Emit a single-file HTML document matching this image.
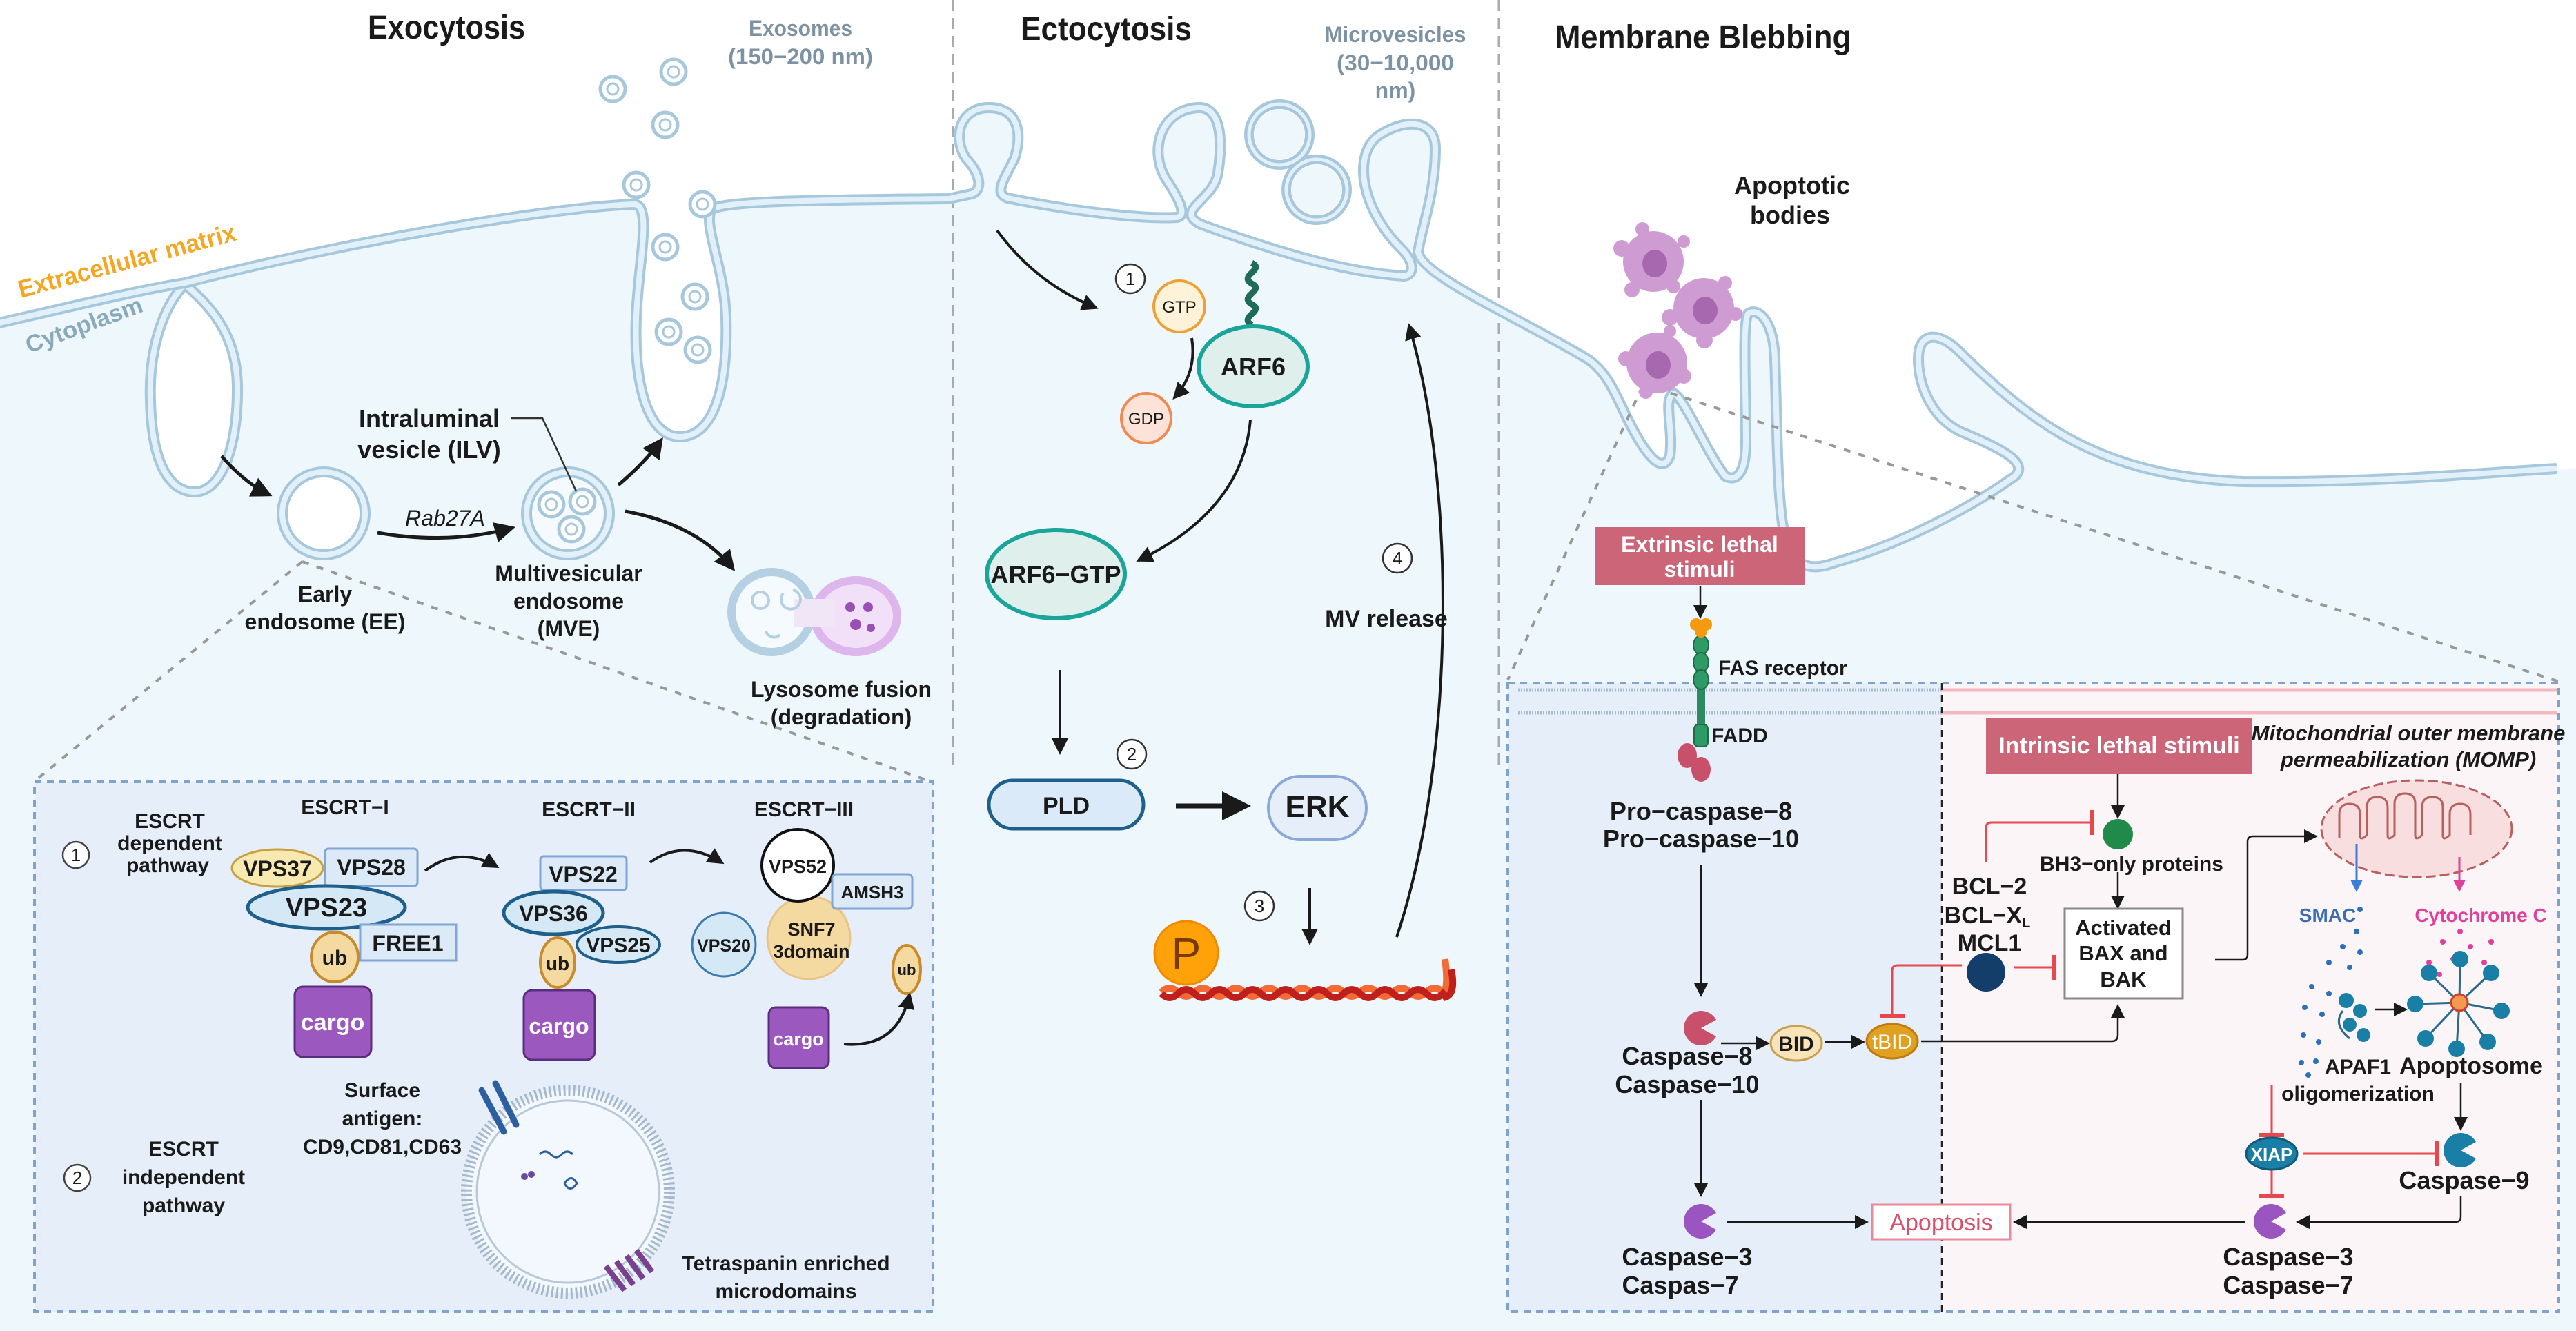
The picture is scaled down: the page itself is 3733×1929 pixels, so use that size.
<!DOCTYPE html>
<html><head><meta charset="utf-8"><style>
html,body{margin:0;padding:0;background:#fff}
svg{display:block}
text{font-family:"Liberation Sans Narrow","Liberation Sans",sans-serif;fill:#1a1a1a}
.b{font-weight:bold}
.g{fill:#7d93a3}
</style></head><body>
<svg xmlns="http://www.w3.org/2000/svg" width="3733" height="1929" viewBox="0 0 3733 1929">
<defs>
<marker id="ah" markerWidth="8" markerHeight="8" refX="6" refY="4" orient="auto" markerUnits="strokeWidth"><path d="M0,0 L8,4 L0,8 Z" fill="#1a1a1a"/></marker>
<marker id="ahs" markerWidth="6" markerHeight="6" refX="5" refY="3" orient="auto" markerUnits="strokeWidth"><path d="M0,0 L6,3 L0,6 Z" fill="#1a1a1a"/></marker>
<marker id="ahb" markerWidth="6" markerHeight="6" refX="5" refY="3" orient="auto" markerUnits="strokeWidth"><path d="M0,0 L6,3 L0,6 Z" fill="#3b7dd8"/></marker>
<marker id="ahp" markerWidth="6" markerHeight="6" refX="5" refY="3" orient="auto" markerUnits="strokeWidth"><path d="M0,0 L6,3 L0,6 Z" fill="#e0409a"/></marker>
<marker id="bar" markerWidth="2" markerHeight="12" refX="1" refY="6" orient="auto" markerUnits="strokeWidth"><rect x="0" y="0" width="2" height="12" fill="#e8474e"/></marker>
<path id="mem" fill="none" d="M-10 470 C 80 450, 200 420, 268 410 C 500 350, 800 300, 920 296 C 945 300, 925 380, 922 460 C 918 560, 940 633, 985 633 C 1035 633, 1055 560, 1052 460 C 1050 390, 1020 330, 1030 305 C 1040 290, 1200 290, 1375 288 L 1408 281 C 1425 276, 1420 250, 1400 230 C 1380 200, 1390 156, 1433 156 C 1480 156, 1480 200, 1470 230 C 1455 260, 1440 280, 1460 287 C 1550 305, 1650 318, 1706 315 C 1720 312, 1710 290, 1690 260 C 1665 220, 1680 160, 1735 156 C 1775 153, 1770 220, 1765 250 C 1760 290, 1700 305, 1740 325 C 1850 365, 1950 395, 2035 400 C 2050 398, 2050 380, 2030 360 C 1970 300, 1960 220, 2000 195 C 2040 170, 2080 175, 2080 215 C 2080 280, 2060 330, 2055 365 C 2060 400, 2200 460, 2300 520 C 2330 540, 2340 570, 2360 610 C 2385 660, 2410 690, 2420 660 C 2425 620, 2410 580, 2425 570 C 2440 575, 2470 650, 2500 690 C 2520 700, 2530 680, 2530 640 C 2530 560, 2525 470, 2533 455 C 2545 445, 2570 460, 2572 520 C 2575 600, 2575 720, 2585 770 C 2595 820, 2620 830, 2660 815 C 2750 790, 2850 740, 2920 690 C 2940 670, 2900 650, 2840 625 C 2800 605, 2780 560, 2780 520 C 2780 480, 2810 480, 2840 510 C 2950 620, 3050 690, 3250 698 C 3450 700, 3600 685, 3705 679"/>
<path id="lpk" fill="none" d="M 268 412 C 240 440, 215 500, 218 580 C 220 680, 250 713, 282 713 C 320 713, 345 650, 344 560 C 343 480, 300 440, 268 412 Z"/>
</defs>

<rect width="3733" height="1929" fill="#eef7fc"/>
<path fill="#fff" d="M-10 0 L-10 470 C 80 450, 200 420, 268 410 C 500 350, 800 300, 920 296 C 945 300, 925 380, 922 460 C 918 560, 940 633, 985 633 C 1035 633, 1055 560, 1052 460 C 1050 390, 1020 330, 1030 305 C 1040 290, 1200 290, 1375 288 L 1408 281 C 1425 276, 1420 250, 1400 230 C 1380 200, 1390 156, 1433 156 C 1480 156, 1480 200, 1470 230 C 1455 260, 1440 280, 1460 287 C 1550 305, 1650 318, 1706 315 C 1720 312, 1710 290, 1690 260 C 1665 220, 1680 160, 1735 156 C 1775 153, 1770 220, 1765 250 C 1760 290, 1700 305, 1740 325 C 1850 365, 1950 395, 2035 400 C 2050 398, 2050 380, 2030 360 C 1970 300, 1960 220, 2000 195 C 2040 170, 2080 175, 2080 215 C 2080 280, 2060 330, 2055 365 C 2060 400, 2200 460, 2300 520 C 2330 540, 2340 570, 2360 610 C 2385 660, 2410 690, 2420 660 C 2425 620, 2410 580, 2425 570 C 2440 575, 2470 650, 2500 690 C 2520 700, 2530 680, 2530 640 C 2530 560, 2525 470, 2533 455 C 2545 445, 2570 460, 2572 520 C 2575 600, 2575 720, 2585 770 C 2595 820, 2620 830, 2660 815 C 2750 790, 2850 740, 2920 690 C 2940 670, 2900 650, 2840 625 C 2800 605, 2780 560, 2780 520 C 2780 480, 2810 480, 2840 510 C 2950 620, 3050 690, 3250 698 C 3450 700, 3600 685, 3745 679 L 3745 0 Z"/>

<line x1="1381" y1="0" x2="1381" y2="1110" stroke="#aaa" stroke-width="3" stroke-dasharray="16 10"/>
<line x1="2172" y1="0" x2="2172" y2="1110" stroke="#aaa" stroke-width="3" stroke-dasharray="16 10"/>

<path d="M 268 412 C 240 440, 215 500, 218 580 C 220 680, 250 713, 282 713 C 320 713, 345 650, 344 560 C 343 480, 300 440, 268 412 Z" fill="#fff"/>
<use href="#lpk" stroke="#a7c8dc" stroke-width="16"/>
<use href="#lpk" stroke="#e2f1f9" stroke-width="8"/>

<use href="#mem" stroke="#a7c8dc" stroke-width="16"/>
<use href="#mem" stroke="#e2f1f9" stroke-width="8"/>

<g fill="#fff" stroke="#a7c8dc" stroke-width="5">
<circle cx="888" cy="129" r="18"/><circle cx="976" cy="104" r="18"/><circle cx="964" cy="181" r="18"/>
<circle cx="922" cy="268" r="18"/><circle cx="1018" cy="296" r="18"/>
<circle cx="964" cy="358" r="18"/><circle cx="1007" cy="430" r="18"/><circle cx="969" cy="481" r="18"/><circle cx="1011" cy="507" r="18"/>
<circle cx="1854" cy="195" r="44" stroke-width="14"/><circle cx="1908" cy="275" r="44" stroke-width="14"/>
</g>
<g fill="none" stroke="#e2f1f9" stroke-width="5"><circle cx="1854" cy="195" r="44"/><circle cx="1908" cy="275" r="44"/></g>
<g fill="#eef7fc"><circle cx="1854" cy="195" r="36"/><circle cx="1908" cy="275" r="36"/></g>
<g fill="none" stroke="#a7c8dc" stroke-width="3">
<circle cx="888" cy="129" r="8"/><circle cx="976" cy="104" r="8"/><circle cx="964" cy="181" r="8"/><circle cx="922" cy="268" r="8"/><circle cx="1018" cy="296" r="8"/><circle cx="964" cy="358" r="8"/><circle cx="1007" cy="430" r="8"/><circle cx="969" cy="481" r="8"/><circle cx="1011" cy="507" r="8"/>
</g>

<text x="647" y="56" font-size="48" class="b" text-anchor="middle" textLength="228" lengthAdjust="spacingAndGlyphs">Exocytosis</text>
<text x="1603" y="58" font-size="48" class="b" text-anchor="middle" textLength="248" lengthAdjust="spacingAndGlyphs">Ectocytosis</text>
<text x="2468" y="70" font-size="48" class="b" text-anchor="middle" textLength="430" lengthAdjust="spacingAndGlyphs">Membrane Blebbing</text>
<g font-size="32" class="b" text-anchor="middle">
<text x="1160" y="52" class="g b" textLength="150" lengthAdjust="spacingAndGlyphs">Exosomes</text>
<text x="1160" y="93" class="g b" textLength="210" lengthAdjust="spacingAndGlyphs">(150−200 nm)</text>
<text x="2022" y="61" class="g b" textLength="205" lengthAdjust="spacingAndGlyphs">Microvesicles</text>
<text x="2022" y="102" class="g b" textLength="170" lengthAdjust="spacingAndGlyphs">(30−10,000</text>
<text x="2022" y="142" class="g b">nm)</text>
</g>
<text x="30" y="432" font-size="36" class="b" transform="rotate(-15 30 432)" style="fill:#f5a623" textLength="325" lengthAdjust="spacingAndGlyphs">Extracellular matrix</text>
<text x="42" y="512" font-size="34" class="b" transform="rotate(-20 42 512)" style="fill:#8aaabb" textLength="178" lengthAdjust="spacingAndGlyphs">Cytoplasm</text>

<circle cx="469" cy="744" r="60" fill="#fff" stroke="#a7c8dc" stroke-width="16"/>
<circle cx="469" cy="744" r="60" fill="none" stroke="#e2f1f9" stroke-width="8"/>
<circle cx="823" cy="744" r="60" fill="#f4fafd" stroke="#a7c8dc" stroke-width="16"/>
<circle cx="823" cy="744" r="60" fill="none" stroke="#e2f1f9" stroke-width="8"/>
<g fill="#fff" stroke="#a7c8dc" stroke-width="5"><circle cx="799" cy="731" r="18"/><circle cx="844" cy="727" r="18"/><circle cx="828" cy="767" r="18"/></g>
<g fill="none" stroke="#a7c8dc" stroke-width="3"><circle cx="799" cy="731" r="8"/><circle cx="844" cy="727" r="8"/><circle cx="828" cy="767" r="8"/></g>
<g stroke="#1a1a1a" stroke-width="5" fill="none">
<path d="M321 661 Q 355 700 390 717" marker-end="url(#ahs)"/>
<path d="M547 772 Q 650 790 742 765" marker-end="url(#ahs)"/>
<path d="M896 703 Q 935 670 958 638" marker-end="url(#ahs)"/>
<path d="M906 741 Q 1010 760 1062 824" marker-end="url(#ahs)"/>
</g>
<polyline points="741,606 786,606 835,712" fill="none" stroke="#333" stroke-width="2.5"/>
<g class="b" font-size="36" text-anchor="middle">
<text x="622" y="619">Intraluminal</text><text x="622" y="664">vesicle (ILV)</text>
</g>
<text x="645" y="762" font-size="32" text-anchor="middle" font-style="italic">Rab27A</text>
<g class="b" font-size="32" text-anchor="middle">
<text x="471" y="872">Early</text><text x="471" y="912">endosome (EE)</text>
<text x="824" y="842">Multivesicular</text><text x="824" y="882">endosome</text><text x="824" y="922">(MVE)</text>
<text x="1219" y="1010">Lysosome fusion</text><text x="1219" y="1050">(degradation)</text>
</g>
<ellipse cx="1240" cy="893" rx="60" ry="52" fill="#f1e0f7" stroke="#dcb6ec" stroke-width="12"/>
<circle cx="1118" cy="887" r="58" fill="#f4fafd" stroke="#b4d0e2" stroke-width="12"/>
<rect x="1150" y="868" width="60" height="40" fill="#f1e6f6"/>
<g fill="none" stroke="#b4d0e2" stroke-width="4"><circle cx="1102" cy="870" r="12"/><path d="M1135 860 a14 14 0 1 0 14 -5"/><path d="M1110 915 a12 12 0 0 0 20 5"/></g>
<g fill="#9a4fb5"><circle cx="1232" cy="880" r="7"/><circle cx="1258" cy="880" r="7"/><circle cx="1240" cy="905" r="8"/><circle cx="1262" cy="910" r="6"/></g>

<g stroke="#999" stroke-width="4" stroke-dasharray="10 12" fill="none">
<line x1="438" y1="814" x2="49" y2="1133"/>
<line x1="438" y1="814" x2="1350" y2="1133"/>
<line x1="2380" y1="560" x2="2185" y2="985"/>
<line x1="2400" y1="563" x2="3715" y2="990"/>
</g>

<rect x="50" y="1133" width="1302" height="768" fill="#e6eff9" stroke="#7fa3cc" stroke-width="4" stroke-dasharray="10 8"/>
<g font-size="26" text-anchor="middle">
<circle cx="110" cy="1239" r="19" fill="#fff" stroke="#444" stroke-width="2.5"/><text x="110" y="1248">1</text>
<circle cx="112" cy="1707" r="19" fill="#fff" stroke="#444" stroke-width="2.5"/><text x="112" y="1716">2</text>
</g>
<g class="b" font-size="30" text-anchor="middle">
<text x="246" y="1200">ESCRT</text><text x="246" y="1232">dependent</text><text x="243" y="1264">pathway</text>
<text x="500" y="1180">ESCRT−I</text><text x="853" y="1183">ESCRT−II</text><text x="1165" y="1183">ESCRT−III</text>
<text x="266" y="1675">ESCRT</text><text x="266" y="1716">independent</text><text x="266" y="1757">pathway</text>
<text x="554" y="1590">Surface</text><text x="554" y="1631">antigen:</text><text x="554" y="1672">CD9,CD81,CD63</text>
<text x="1139" y="1841">Tetraspanin enriched</text><text x="1139" y="1881">microdomains</text>
</g>
<ellipse cx="402" cy="1258" rx="66" ry="27" fill="#f7e9b0" stroke="#c8a040" stroke-width="3"/>
<rect x="471" y="1230" width="134" height="54" rx="5" fill="#dceaf7" stroke="#7fa6d6" stroke-width="3"/>
<ellipse cx="473" cy="1315" rx="114" ry="31" fill="#d5e8f5" stroke="#1f5f8b" stroke-width="5"/>
<rect x="522" y="1340" width="139" height="52" fill="#dceaf7" stroke="#7fa6d6" stroke-width="3"/>
<ellipse cx="485" cy="1387" rx="34" ry="36" fill="#f4d9a0" stroke="#c88b2c" stroke-width="4"/>
<rect x="427" y="1430" width="111" height="102" rx="12" fill="#9b59c0" stroke="#5a2d80" stroke-width="3"/>
<rect x="783" y="1241" width="125" height="49" rx="5" fill="#dceaf7" stroke="#7fa6d6" stroke-width="3"/>
<ellipse cx="802" cy="1323" rx="72" ry="31" fill="#d5e8f5" stroke="#1f5f8b" stroke-width="5"/>
<ellipse cx="896" cy="1369" rx="60" ry="26" fill="#d5e8f5" stroke="#1f5f8b" stroke-width="4"/>
<ellipse cx="808" cy="1395" rx="25" ry="36" fill="#f4d9a0" stroke="#c88b2c" stroke-width="4"/>
<rect x="759" y="1435" width="103" height="101" rx="12" fill="#9b59c0" stroke="#5a2d80" stroke-width="3"/>
<circle cx="1172" cy="1359" r="60" fill="#f4d9a0" stroke="#e8c48a" stroke-width="3"/>
<circle cx="1049" cy="1369" r="46" fill="#d5e8f5" stroke="#3a7ab0" stroke-width="3"/>
<circle cx="1156" cy="1254" r="52" fill="#fff" stroke="#111" stroke-width="4"/>
<rect x="1206" y="1267" width="116" height="50" rx="6" fill="#dceaf7" stroke="#7fa6d6" stroke-width="3"/>
<ellipse cx="1314" cy="1405" rx="20" ry="35" fill="#f4d9a0" stroke="#c88b2c" stroke-width="4"/>
<rect x="1114" y="1460" width="87" height="88" rx="10" fill="#9b59c0" stroke="#5a2d80" stroke-width="3"/>
<g stroke="#1a1a1a" stroke-width="4" fill="none">
<path d="M616 1262 Q 665 1225 720 1256" marker-end="url(#ahs)"/>
<path d="M942 1250 Q 990 1215 1046 1250" marker-end="url(#ahs)"/>
<path d="M1223 1513 Q 1300 1520 1318 1442" marker-end="url(#ahs)"/>
</g>
<g class="b" text-anchor="middle">
<text x="402" y="1270" font-size="32">VPS37</text>
<text x="538" y="1268" font-size="32">VPS28</text>
<text x="473" y="1328" font-size="38">VPS23</text>
<text x="591" y="1378" font-size="32">FREE1</text>
<text x="485" y="1398" font-size="30">ub</text>
<text x="482" y="1493" font-size="34" style="fill:#fff">cargo</text>
<text x="845" y="1278" font-size="32">VPS22</text>
<text x="802" y="1335" font-size="32">VPS36</text>
<text x="896" y="1380" font-size="30">VPS25</text>
<text x="808" y="1406" font-size="28">ub</text>
<text x="810" y="1498" font-size="32" style="fill:#fff">cargo</text>
<text x="1156" y="1265" font-size="27">VPS52</text>
<text x="1264" y="1302" font-size="26">AMSH3</text>
<text x="1176" y="1356" font-size="27">SNF7</text>
<text x="1176" y="1388" font-size="27">3domain</text>
<text x="1049" y="1379" font-size="25">VPS20</text>
<text x="1314" y="1413" font-size="22">ub</text>
<text x="1157" y="1515" font-size="27" style="fill:#fff">cargo</text>
</g>
<circle cx="823" cy="1727" r="147" fill="#f2f8fd" stroke="#a5b8cc" stroke-width="16" stroke-dasharray="3 4"/>
<circle cx="823" cy="1727" r="132" fill="none" stroke="#b8c8d8" stroke-width="3"/>
<g stroke="#2c5fa0" stroke-width="9" stroke-linecap="round"><line x1="698" y1="1580" x2="730" y2="1640"/><line x1="718" y1="1570" x2="748" y2="1630"/></g>
<g stroke="#7a3f8f" stroke-width="8"><line x1="878" y1="1835" x2="905" y2="1870"/><line x1="893" y1="1828" x2="918" y2="1862"/><line x1="908" y1="1820" x2="932" y2="1853"/><line x1="922" y1="1812" x2="945" y2="1843"/></g>
<path d="M782 1673 q8 -8 16 0 t16 0 t16 0" stroke="#2c5fa0" stroke-width="3" fill="none"/>
<path d="M818 1715 q10 -15 18 0 q-10 15 -18 0" stroke="#2c5fa0" stroke-width="3" fill="none"/>
<g fill="#6a4aa0"><circle cx="760" cy="1705" r="5"/><circle cx="770" cy="1702" r="5"/></g>

<g stroke="#1a1a1a" stroke-width="4" fill="none">
<path d="M1445 334 Q 1500 410 1588 446" marker-end="url(#ahs)"/>
<path d="M1727 490 Q 1735 540 1702 576" marker-end="url(#ahs)"/>
<path d="M1812 609 Q 1800 740 1650 812" marker-end="url(#ahs)"/>
<path d="M1536 971 L1536 1090" marker-end="url(#ahs)"/>
<path d="M1704 1168 L1806 1168" stroke-width="7" marker-end="url(#ahs)"/>
<path d="M1898 1287 L1898 1366" marker-end="url(#ahs)"/>
<path d="M2024 1358 C 2110 1100, 2110 700, 2042 472" marker-end="url(#ahs)"/>
</g>
<path d="M1814 471 c-20 -12 20 -20 0 -30 c-20 -12 20 -20 0 -30 c-20 -12 20 -20 0 -30" stroke="#1f6b57" stroke-width="9" fill="none"/>
<circle cx="1709" cy="444" r="37" fill="#fef3d9" stroke="#f0a030" stroke-width="4"/>
<circle cx="1661" cy="606" r="36" fill="#fde2d8" stroke="#f08a50" stroke-width="4"/>
<ellipse cx="1816" cy="531" rx="79" ry="58" fill="#dff0ec" stroke="#1aa59a" stroke-width="6"/>
<ellipse cx="1530" cy="832" rx="100" ry="64" fill="#dff0ec" stroke="#1aa59a" stroke-width="6"/>
<rect x="1433" y="1131" width="224" height="70" rx="35" fill="#dbeaf8" stroke="#1f5f8b" stroke-width="5"/>
<rect x="1838" y="1125" width="142" height="92" rx="46" fill="#e6eef9" stroke="#8aa8d8" stroke-width="4"/>
<g font-size="26" text-anchor="middle">
<circle cx="1638" cy="404" r="21" fill="#fff" stroke="#333" stroke-width="2.5"/><text x="1638" y="413">1</text>
<circle cx="1640" cy="1093" r="21" fill="#fff" stroke="#333" stroke-width="2.5"/><text x="1640" y="1102">2</text>
<circle cx="1825" cy="1313" r="21" fill="#fff" stroke="#333" stroke-width="2.5"/><text x="1825" y="1322">3</text>
<circle cx="2025" cy="809" r="21" fill="#fff" stroke="#333" stroke-width="2.5"/><text x="2025" y="818">4</text>
</g>
<g text-anchor="middle">
<text x="1709" y="453" font-size="24">GTP</text>
<text x="1661" y="615" font-size="24">GDP</text>
<text x="1816" y="544" font-size="36" class="b">ARF6</text>
<text x="1530" y="845" font-size="36" class="b">ARF6−GTP</text>
<text x="1545" y="1179" font-size="34" class="b">PLD</text>
<text x="1909" y="1184" font-size="44" class="b">ERK</text>
<text x="2009" y="908" font-size="34" class="b">MV release</text>
</g>
<path d="M1683 1438 q12 -12 24 0 t24 0 t24 0 t24 0 t24 0 t24 0 t24 0 t24 0 t24 0 t24 0 t24 0 t24 0 t24 0 t24 0 t24 0 t24 0 t24 0 L2090 1440 q10 -5 4 -50" stroke="#f26a36" stroke-width="10" fill="none"/>
<path d="M1683 1440 q12 12 24 0 t24 0 t24 0 t24 0 t24 0 t24 0 t24 0 t24 0 t24 0 t24 0 t24 0 t24 0 t24 0 t24 0 t24 0 t24 0 t24 0 L2095 1445 q15 -5 8 -40" stroke="#c0201c" stroke-width="10" fill="none"/>
<circle cx="1719" cy="1381" r="46" fill="#ffa20a" stroke="#f08a00" stroke-width="3"/>
<text x="1719" y="1404" font-size="64" text-anchor="middle" style="fill:#7a3b00">P</text>

<g fill="#cf9bd3"><circle cx="2396" cy="379" r="44"/><circle cx="2469" cy="447" r="44"/><circle cx="2401" cy="526" r="44"/>
<circle cx="2350" cy="360" r="12"/><circle cx="2380" cy="332" r="10"/><circle cx="2440" cy="350" r="9"/><circle cx="2365" cy="420" r="11"/><circle cx="2425" cy="415" r="10"/>
<circle cx="2420" cy="460" r="12"/><circle cx="2500" cy="410" r="10"/><circle cx="2515" cy="455" r="10"/><circle cx="2470" cy="493" r="12"/>
<circle cx="2356" cy="520" r="11"/><circle cx="2385" cy="568" r="10"/><circle cx="2440" cy="545" r="11"/><circle cx="2420" cy="480" r="9"/></g>
<g fill="#a868b0"><ellipse cx="2398" cy="382" rx="18" ry="20"/><ellipse cx="2471" cy="450" rx="18" ry="20"/><ellipse cx="2403" cy="529" rx="18" ry="20"/></g>
<g class="b" font-size="36" text-anchor="middle"><text x="2597" y="281">Apoptotic</text><text x="2594" y="324">bodies</text></g>

<rect x="2185" y="990" width="1523" height="911" fill="#e6eff9"/>
<rect x="2814" y="990" width="894" height="911" fill="#fcf5f8"/>
<line x1="2200" y1="1000" x2="2814" y2="1000" stroke="#a8bccc" stroke-width="5" stroke-dasharray="2 2"/>
<line x1="2200" y1="1033" x2="2814" y2="1033" stroke="#a8bccc" stroke-width="5" stroke-dasharray="2 2"/>
<line x1="2814" y1="1000" x2="3705" y2="1000" stroke="#f4b8c0" stroke-width="5"/>
<line x1="2814" y1="1033" x2="3705" y2="1033" stroke="#f4b8c0" stroke-width="5"/>
<line x1="2814" y1="990" x2="2814" y2="1901" stroke="#222" stroke-width="2.5" stroke-dasharray="10 7"/>
<rect x="2185" y="990" width="1523" height="911" fill="none" stroke="#7fa3cc" stroke-width="4" stroke-dasharray="10 8"/>

<rect x="2311" y="764" width="305" height="84" fill="#cc6577"/>
<g class="b" font-size="32" text-anchor="middle"><text x="2463" y="800" style="fill:#fff">Extrinsic lethal</text><text x="2463" y="836" style="fill:#fff">stimuli</text></g>
<g stroke="#1a1a1a" stroke-width="2.5" fill="none">
<path d="M2464 850 L2464 892" marker-end="url(#ah)"/>
<path d="M2465 1253 L2465 1440" marker-end="url(#ah)"/>
<path d="M2465 1594 L2465 1730" marker-end="url(#ah)"/>
<path d="M2494 1512 L2560 1512" marker-end="url(#ah)"/>
<path d="M2645 1510 L2698 1510" marker-end="url(#ah)"/>
<path d="M2784 1509 L3060 1509 Q3069 1509 3069 1500 L3069 1460" marker-end="url(#ah)"/>
<path d="M3069 1122 L3069 1182" marker-end="url(#ah)"/>
<path d="M3069 1264 L3069 1313" marker-end="url(#ah)"/>
<path d="M3210 1391 L3250 1391 Q3257 1391 3257 1383 L3257 1220 Q3257 1212 3265 1212 L3354 1212" marker-end="url(#ah)"/>
<path d="M3442 1463 L3484 1463" marker-end="url(#ah)"/>
<path d="M3566 1570 L3566 1634" marker-end="url(#ah)"/>
<path d="M3566 1733 L3566 1763 Q3566 1771 3558 1771 L3332 1771" marker-end="url(#ah)"/>
<path d="M2502 1771 L2703 1771" marker-end="url(#ah)"/>
<path d="M3254 1771 L2922 1771" marker-end="url(#ah)"/>
</g>
<rect x="2459" y="940" width="12" height="130" fill="#2e8a5f"/>
<g fill="#2e9a66" stroke="#1f6b47" stroke-width="2"><ellipse cx="2465" cy="935" rx="11" ry="14"/><ellipse cx="2465" cy="960" rx="11" ry="14"/><ellipse cx="2465" cy="985" rx="11" ry="14"/><rect x="2455" y="1050" width="20" height="32" rx="6"/></g>
<circle cx="2458" cy="905" r="9" fill="#f59a10"/><circle cx="2472" cy="905" r="9" fill="#f59a10"/><circle cx="2465" cy="915" r="9" fill="#f59a10"/>
<ellipse cx="2445" cy="1095" rx="14" ry="18" fill="#c9506a"/><ellipse cx="2465" cy="1115" rx="14" ry="18" fill="#c9506a"/>
<text x="2490" y="978" font-size="30" class="b">FAS receptor</text>
<text x="2480" y="1076" font-size="30" class="b">FADD</text>
<g class="b" font-size="36" text-anchor="middle">
<text x="2465" y="1188">Pro−caspase−8</text><text x="2465" y="1228">Pro−caspase−10</text>
<text x="2445" y="1543">Caspase−8</text><text x="2445" y="1584">Caspase−10</text>
<text x="2445" y="1834">Caspase−3</text><text x="2435" y="1875">Caspas−7</text>
<text x="3316" y="1834">Caspase−3</text><text x="3316" y="1875">Caspase−7</text>
<text x="3571" y="1723">Caspase−9</text>
</g>
<path d="M2465 1490 L2487 1478 A25 25 0 1 0 2487 1502 Z" fill="#c9506a"/>
<path d="M2465 1770 L2487 1758 A25 25 0 1 0 2487 1782 Z" fill="#9b55c0"/>
<path d="M3291 1770 L3313 1758 A25 25 0 1 0 3313 1782 Z" fill="#9b55c0"/>
<path d="M3566 1667 L3588 1655 A25 25 0 1 0 3588 1679 Z" fill="#1a7fa6"/>
<ellipse cx="2603" cy="1512" rx="37" ry="25" fill="#f8e4b8" stroke="#c8a050" stroke-width="3"/>
<ellipse cx="2742" cy="1509" rx="37" ry="25" fill="#e0a020" stroke="#c07a10" stroke-width="3"/>
<text x="2603" y="1523" font-size="30" class="b" text-anchor="middle">BID</text>
<text x="2742" y="1520" font-size="30" text-anchor="middle" style="fill:#fff">tBID</text>
<rect x="2713" y="1746" width="200" height="50" fill="#fff" stroke="#e88a9a" stroke-width="3"/>
<text x="2813" y="1783" font-size="34" text-anchor="middle" style="fill:#d9506b">Apoptosis</text>
<rect x="2878" y="1040" width="386" height="82" fill="#cc6577"/>
<text x="3071" y="1092" font-size="34" class="b" text-anchor="middle" style="fill:#fff">Intrinsic lethal stimuli</text>
<g font-size="31" class="b" font-style="italic" text-anchor="middle"><text x="3490" y="1073">Mitochondrial outer membrane</text><text x="3490" y="1111">permeabilization (MOMP)</text></g>
<circle cx="3069" cy="1209" r="22" fill="#1f8a4a"/>
<text x="3089" y="1262" font-size="30" class="b" text-anchor="middle">BH3−only proteins</text>
<rect x="2992" y="1317" width="171" height="130" fill="#fff" stroke="#888" stroke-width="3"/>
<g class="b" font-size="31" text-anchor="middle"><text x="3077" y="1355">Activated</text><text x="3077" y="1392">BAX and</text><text x="3077" y="1430">BAK</text></g>
<g class="b" font-size="34" text-anchor="middle"><text x="2883" y="1296">BCL−2</text><text x="2880" y="1338">BCL−X<tspan font-size="20" dy="6">L</tspan></text><text x="2883" y="1378">MCL1</text></g>
<circle cx="2878" cy="1409" r="28" fill="#143e6a"/>
<g stroke="#e8474e" stroke-width="3" fill="none">
<path d="M2878 1249 L2878 1200 Q2878 1192 2886 1192 L3031 1192" marker-end="url(#bar)"/>
<path d="M2918 1402 L2977 1402" marker-end="url(#bar)"/>
<path d="M2843 1399 L2750 1399 Q2742 1399 2742 1407 L2742 1473" marker-end="url(#bar)"/>
<path d="M3292 1572 L3292 1645" marker-end="url(#bar)"/>
<path d="M3338 1672 L3531 1672" marker-end="url(#bar)"/>
<path d="M3292 1693 L3292 1733" marker-end="url(#bar)"/>
</g>
<ellipse cx="3502" cy="1201" rx="138" ry="70" fill="#f8dede" stroke="#b86060" stroke-width="3" stroke-dasharray="14 6"/>
<path d="M3390 1215 L3390 1180 q0 -15 15 -15 q15 0 15 15 l0 30 q0 10 10 0 l0 -40 q0 -15 15 -15 q15 0 15 15 l0 40 q0 10 10 0 l0 -45 q0 -15 15 -15 q15 0 15 15 l0 45 q0 10 10 0 l0 -40 q0 -15 15 -15 q15 0 15 15 l0 40 q0 10 10 0 l0 -30 q0 -15 15 -15 q15 0 15 15 l0 30" fill="none" stroke="#b86060" stroke-width="3"/>
<path d="M3415 1223 L3415 1290" stroke="#3b7dd8" stroke-width="3" marker-end="url(#ahb)"/>
<path d="M3564 1242 L3564 1290" stroke="#e0409a" stroke-width="3" marker-end="url(#ahp)"/>
<text x="3373" y="1336" font-size="28" class="b" text-anchor="middle" style="fill:#3b6db5">SMAC</text>
<text x="3595" y="1336" font-size="28" class="b" text-anchor="middle" style="fill:#e0409a">Cytochrome C</text>
<g fill="#2d6fb8">
<circle cx="3420" cy="1318" r="4"/><circle cx="3415" cy="1350" r="4"/><circle cx="3395" cy="1372" r="4"/><circle cx="3420" cy="1380" r="4"/><circle cx="3375" cy="1395" r="4"/><circle cx="3405" cy="1402" r="4"/><circle cx="3350" cy="1430" r="4"/><circle cx="3375" cy="1440" r="4"/><circle cx="3340" cy="1460" r="4"/><circle cx="3365" cy="1470" r="4"/><circle cx="3338" cy="1500" r="4"/><circle cx="3360" cy="1510" r="4"/><circle cx="3335" cy="1540" r="4"/><circle cx="3356" cy="1538" r="4"/><circle cx="3345" cy="1558" r="4"/>
</g>
<g fill="#e0409a">
<circle cx="3565" cy="1350" r="4"/><circle cx="3540" cy="1365" r="4"/><circle cx="3580" cy="1372" r="4"/><circle cx="3610" cy="1365" r="4"/><circle cx="3520" cy="1395" r="4"/><circle cx="3555" cy="1390" r="4"/><circle cx="3600" cy="1395" r="4"/><circle cx="3535" cy="1412" r="4"/>
</g>
<g fill="#1a7fa6"><circle cx="3400" cy="1450" r="11"/><circle cx="3420" cy="1465" r="10"/><circle cx="3405" cy="1485" r="10"/><circle cx="3425" cy="1500" r="10"/></g>
<path d="M3395 1465 q-15 20 10 40" stroke="#2a6a8a" stroke-width="3" fill="none"/>
<g stroke="#2a6a8a" stroke-width="3"><line x1="3564" y1="1453" x2="3520" y2="1410"/><line x1="3564" y1="1453" x2="3610" y2="1410"/><line x1="3564" y1="1453" x2="3625" y2="1465"/><line x1="3564" y1="1453" x2="3605" y2="1510"/><line x1="3564" y1="1453" x2="3560" y2="1520"/><line x1="3564" y1="1453" x2="3515" y2="1505"/><line x1="3564" y1="1453" x2="3500" y2="1455"/><line x1="3564" y1="1453" x2="3565" y2="1390"/></g>
<g fill="#1a7fa6"><circle cx="3520" cy="1410" r="12"/><circle cx="3610" cy="1410" r="12"/><circle cx="3625" cy="1465" r="12"/><circle cx="3605" cy="1510" r="12"/><circle cx="3560" cy="1520" r="12"/><circle cx="3515" cy="1505" r="12"/><circle cx="3500" cy="1455" r="12"/><circle cx="3565" cy="1390" r="12"/></g>
<circle cx="3564" cy="1453" r="12" fill="#f29a50" stroke="#d0402a" stroke-width="3"/>
<g class="b" font-size="30" text-anchor="middle"><text x="3417" y="1556">APAF1</text><text x="3417" y="1595">oligomerization</text></g>
<text x="3581" y="1556" font-size="34" class="b" text-anchor="middle">Apoptosome</text>
<ellipse cx="3292" cy="1672" rx="37" ry="23" fill="#1a7fa6" stroke="#0f5a78" stroke-width="3"/>
<text x="3292" y="1682" font-size="26" class="b" text-anchor="middle" style="fill:#fff">XIAP</text>
</svg>
</body></html>
